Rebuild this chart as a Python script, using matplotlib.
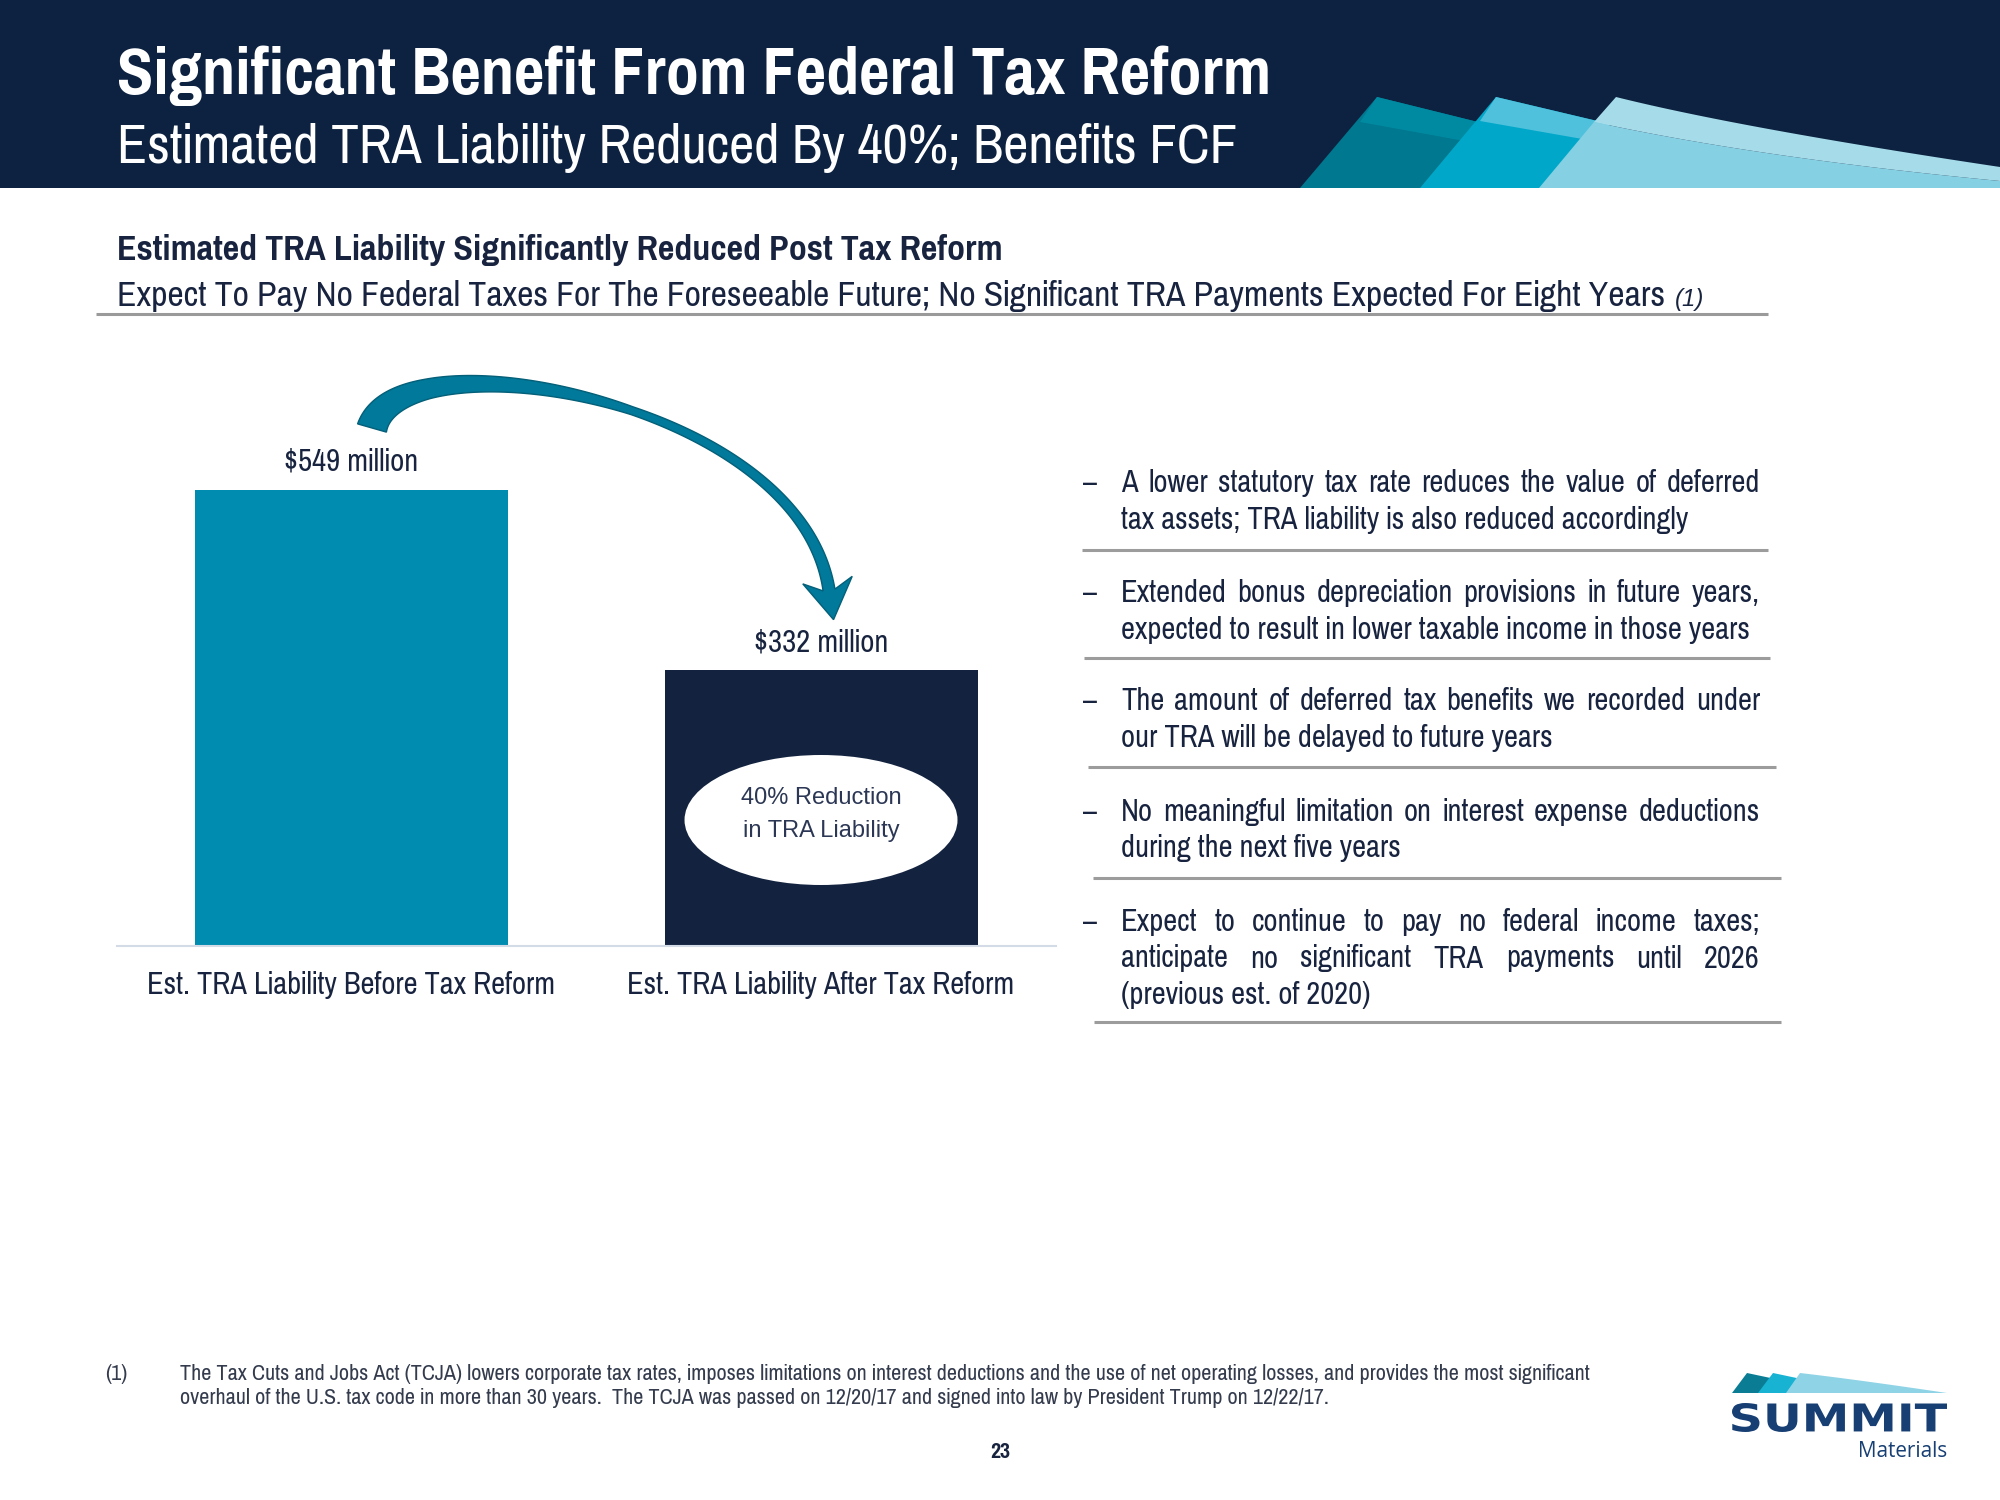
import numpy as np
import matplotlib.pyplot as plt
from matplotlib import font_manager
from matplotlib.patches import Polygon, Ellipse, PathPatch
from matplotlib.textpath import TextPath
from matplotlib.font_manager import FontProperties
from matplotlib.transforms import Affine2D, blended_transform_factory

names = {f.name for f in font_manager.fontManager.ttflist}
NARROW = 'Liberation Sans'
for cand in ['Liberation Sans Narrow', 'Arial Narrow', 'Pragati Narrow', 'Roboto Condensed', 'Archivo Narrow']:
    if cand in names:
        NARROW = cand
        break
plt.rcParams['font.family'] = [NARROW, 'DejaVu Sans']

# ---- data ----
categories = ['Est. TRA Liability Before Tax Reform', 'Est. TRA Liability After Tax Reform']
liability = [549, 332]
value_labels = ['$549 million', '$332 million']
bar_colors = ['#008bb0', '#13233f']

title = 'Significant Benefit From Federal Tax Reform'
subtitle = 'Estimated TRA Liability Reduced By 40%; Benefits FCF'
heading = 'Estimated TRA Liability Significantly Reduced Post Tax Reform'
subheading = 'Expect To Pay No Federal Taxes For The Foreseeable Future; No Significant TRA Payments Expected For Eight Years'

bullets = [
    ['A lower statutory tax rate reduces the value of deferred',
     'tax assets; TRA liability is also reduced accordingly'],
    ['Extended bonus depreciation provisions in future years,',
     'expected to result in lower taxable income in those years'],
    ['The amount of deferred tax benefits we recorded under',
     'our TRA will be delayed to future years'],
    ['No meaningful limitation on interest expense deductions',
     'during the next five years'],
    ['Expect to continue to pay no federal income taxes;',
     'anticipate no significant TRA payments until 2026',
     '(previous est. of 2020)'],
]
bullet_first_base = [492, 602, 710, 821, 931]
rules = [(550, 1082, 1768), (658, 1084, 1770), (767, 1088, 1776), (878, 1093, 1781), (1022, 1094, 1781)]

footnote = ['The Tax Cuts and Jobs Act (TCJA) lowers corporate tax rates, imposes limitations on interest deductions and the use of net operating losses, and provides the most significant',
            'overhaul of the U.S. tax code in more than 30 years.  The TCJA was passed on 12/20/17 and signed into law by President Trump on 12/22/17.']

NAVY = '#0d2240'
TXT = '#18243f'

fig = plt.figure(figsize=(20, 15), dpi=100)
ax = fig.add_axes([0, 0, 1, 1])
ax.set_xlim(0, 2000)
ax.set_ylim(1500, 0)
ax.axis('off')
r = fig.canvas.get_renderer()


def fit(a, x, y, s, width, **kw):
    t = a.text(x, y, s, fontsize=20, **kw)
    w = t.get_window_extent(r).width
    t.set_fontsize(20 * width / w)
    return t


def qbez(p0, c, p2, n=40):
    t = np.linspace(0, 1, n)[:, None]
    return (1 - t) ** 2 * np.array(p0) + 2 * (1 - t) * t * np.array(c) + t ** 2 * np.array(p2)


# ---- header band ----
ax.add_patch(Polygon([(0, 0), (2000, 0), (2000, 188), (0, 188)], color=NAVY, lw=0))
ax.add_patch(Polygon([(1300, 188), (1377, 97), (1490, 125), (1440, 188)], color='#00788f', lw=0))
ax.add_patch(Polygon([(1360, 122), (1377, 97), (1490, 125), (1470, 142)], color='#008aa2', lw=0))
ax.add_patch(Polygon([(1420, 188), (1496, 97), (1610, 124), (1580, 188)], color='#00a7c9', lw=0))
ax.add_patch(Polygon([(1480, 121), (1496, 97), (1610, 124), (1588, 140)], color='#4fc1dc', lw=0))
top3 = qbez((1616, 97), (1740, 128), (2000, 167))
low3 = qbez((1594, 122), (1760, 158), (2000, 181))
ax.add_patch(Polygon(np.vstack([[(1539, 188)], low3, [(2000, 188)]]), color='#86d0e3', lw=0))
ax.add_patch(Polygon(np.vstack([top3, low3[::-1]]), color='#a6dcea', lw=0))

fit(ax, 117, 94, title, 1153, color='white', weight='bold', va='baseline')
fit(ax, 117, 163, subtitle, 1120, color='white', va='baseline')

# ---- section heading ----
fit(ax, 117, 260, heading, 884, color=TXT, weight='bold', va='baseline')
sh = fit(ax, 117, 306, subheading, 1548, color=TXT, va='baseline')
ax.text(1675, 306, '(1)', fontsize=sh.get_fontsize() * 0.62, style='italic',
        family=['Liberation Sans', 'DejaVu Sans'], color=TXT, va='baseline')
ax.plot([96, 1768], [314, 314], color='#9a9a9a', lw=2.2, solid_capstyle='butt')

# ---- curved arrow ----
P = np.array([[372, 428], [400, 330], [800, 400], [829, 590]], float)
t = np.linspace(0, 1, 150)[:, None]
B = (1 - t) ** 3 * P[0] + 3 * (1 - t) ** 2 * t * P[1] + 3 * (1 - t) * t ** 2 * P[2] + t ** 3 * P[3]
dB = 3 * (1 - t) ** 2 * (P[1] - P[0]) + 6 * (1 - t) * t * (P[2] - P[1]) + 3 * t ** 2 * (P[3] - P[2])
tan = dB / np.linalg.norm(dB, axis=1)[:, None]
nrm = np.column_stack([-tan[:, 1], tan[:, 0]])
w = np.interp(t[:, 0], [0, 0.2, 0.55, 0.85, 1], [30, 20, 8, 10, 12])
left = B + nrm * w[:, None] / 2
right = B - nrm * w[:, None] / 2
E, d, n = B[-1], tan[-1], nrm[-1]
head = [E + n * 25 - d * 10, E + d * 30, E - n * 25 - d * 10]
ax.add_patch(Polygon(np.vstack([left, head, right[::-1]]), facecolor='#00799a', edgecolor='#045f78', lw=1))

# ---- bar chart ----
axb = fig.add_axes([117 / 2000, (1500 - 946) / 1500, 939 / 2000, 600 / 1500])
axb.set_facecolor('none')
x = np.arange(len(liability))
axb.bar(x, liability, width=0.666, color=bar_colors)
axb.set_xlim(-0.498, 1.5)
axb.set_ylim(0, 722)
for s in ['top', 'left', 'right']:
    axb.spines[s].set_visible(False)
axb.spines['bottom'].set_color('#d3dbe6')
axb.spines['bottom'].set_linewidth(1.5)
axb.set_xticks([])
axb.set_yticks([])
mix = blended_transform_factory(axb.transData, ax.transData)
for i, (v, lab) in enumerate(zip(liability, value_labels)):
    t0 = axb.annotate(lab, xy=(i, v), xytext=(0, 13.7), textcoords='offset points',
                      ha='center', va='baseline', fontsize=20, color=TXT)
    t0.set_fontsize(20 * 134 / t0.get_window_extent(r).width)
cat_size = None
for i, c in enumerate(categories):
    tc = axb.text(i, 994, c, transform=mix, ha='center', va='baseline', fontsize=20, color=TXT)
    if cat_size is None:
        cat_size = 20 * 408 / tc.get_window_extent(r).width
    tc.set_fontsize(cat_size)

k = 722 / 600
axb.add_patch(Ellipse((1, 126 * k), width=273 / 470, height=130 * k, facecolor='white', edgecolor='none'))
axb.text(1, 804, '40% Reduction', transform=mix, ha='center', va='baseline', fontsize=17,
         family='Liberation Sans', color='#2b3754')
axb.text(1, 837, 'in TRA Liability', transform=mix, ha='center', va='baseline', fontsize=17,
         family='Liberation Sans', color='#2b3754')

# ---- bullets ----
probe = ax.text(0, 0, bullets[0][1], fontsize=20)
bsize = 20 * 567 / probe.get_window_extent(r).width
probe.remove()
X0, X1, LS = 1121, 1760, 36.5
for lines, y0 in zip(bullets, bullet_first_base):
    ax.text(1083, y0, '\u2013', fontsize=bsize, color=TXT, va='baseline')
    for j, line in enumerate(lines):
        y = y0 + j * LS
        words = line.split()
        if j == len(lines) - 1:
            ax.text(X0, y, line, fontsize=bsize, color=TXT, va='baseline')
            continue
        ts = [ax.text(0, y, wd, fontsize=bsize, color=TXT, va='baseline') for wd in words]
        ws = [tt.get_window_extent(r).width for tt in ts]
        gap = (X1 - X0 - sum(ws)) / (len(words) - 1)
        xx = X0
        for tt, ww in zip(ts, ws):
            tt.set_x(xx)
            xx += ww + gap
for y, xa, xb in rules:
    ax.plot([xa, xb], [y, y], color='#9c9c9c', lw=2.2, solid_capstyle='butt')

# ---- footnote / page ----
fn = fit(ax, 180, 1380, footnote[0], 1408, color='#333b4d', va='baseline')
ax.text(180, 1404, footnote[1], fontsize=fn.get_fontsize(), color='#333b4d', va='baseline')
ax.text(105, 1380, '(1)', fontsize=fn.get_fontsize(), color='#333b4d', va='baseline')
fit(ax, 1000, 1458, '23', 20, color=TXT, weight='bold', ha='center', va='baseline')

# ---- logo ----
ax.add_patch(Polygon([(1732, 1393), (1747, 1373), (1780, 1380), (1770, 1393)], color='#0a7d95', lw=0))
ax.add_patch(Polygon([(1758, 1393), (1773, 1373), (1806, 1380), (1800, 1393)], color='#18b2d2', lw=0))
tail = qbez((1800, 1373), (1860, 1380), (1947, 1393), 20)
ax.add_patch(Polygon(np.vstack([[(1786, 1393)], tail]), color='#8fd3e6', lw=0))
tp = TextPath((0, 0), 'SUMMIT', size=100, prop=FontProperties(family='DejaVu Sans', weight='heavy'))
ext = tp.get_extents()
tr = Affine2D().translate(-ext.x0, -ext.y0).scale(215 / ext.width, -29 / ext.height).translate(1732, 1432)
ax.add_patch(PathPatch(tr.transform_path(tp), facecolor='#173f73', edgecolor='none'))
fit(ax, 1947, 1457, 'Materials', 89, family='Open Sans', color='#173f73', ha='right', va='baseline')

fig.savefig('out.png', dpi=100)
